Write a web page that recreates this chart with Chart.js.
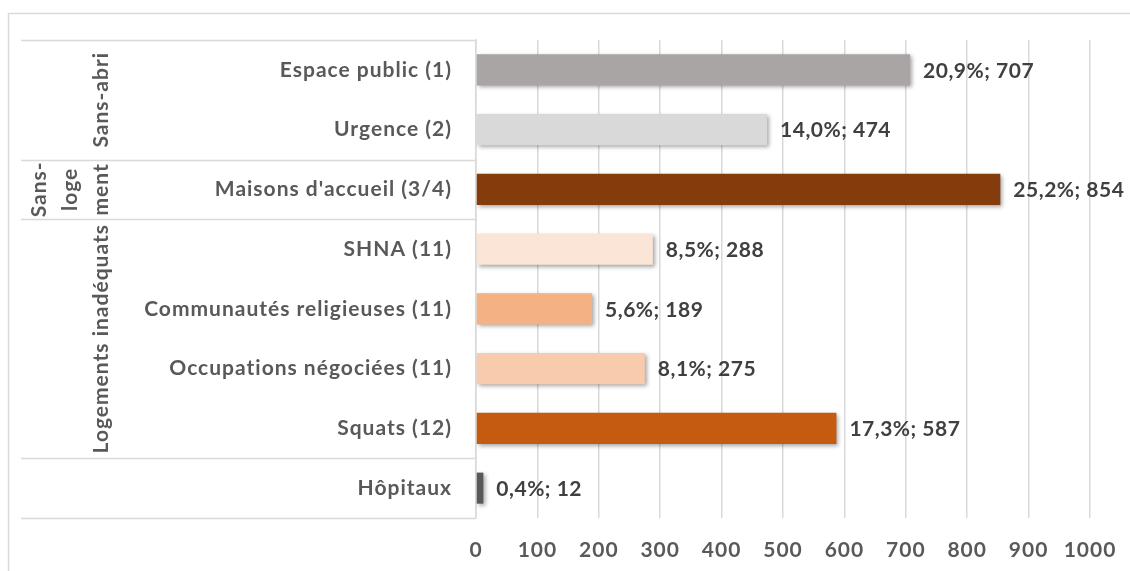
<!DOCTYPE html>
<html>
<head>
<meta charset="utf-8">
<script src="https://cdn.jsdelivr.net/npm/chart.js@4"></script>
<style>
  html, body { margin: 0; padding: 0; background: #fff; }
  #wrap { width: 1130px; height: 571px; }
</style>
</head>
<body>
<div id="wrap"><canvas id="graf"></canvas></div>
<script>
const categorias = [
  "Espace public (1)",
  "Urgence (2)",
  "Maisons d'accueil (3/4)",
  "SHNA (11)",
  "Communautés religieuses (11)",
  "Occupations négociées (11)",
  "Squats (12)",
  "Hôpitaux"
];
const valeurs = [707, 474, 854, 288, 189, 275, 587, 12];
const pourcents = ["20,9%", "14,0%", "25,2%", "8,5%", "5,6%", "8,1%", "17,3%", "0,4%"];
const couleurs = ["#a8a5a4", "#d9d9d9", "#843c0c", "#fbe5d6", "#f4b183", "#f8cbad", "#c55a11", "#595959"];
const ticksX = [0, 100, 200, 300, 400, 500, 600, 700, 800, 900, 1000];

// groupes de l'axe hiérarchique
const groupes = [["Sans-abri"], ["Sans-", "loge", "ment"], ["Logements inadéquats"], []];
const plages = [[0, 1], [2, 2], [3, 6], [7, 7]];

const FONT = "Lato, 'Liberation Sans', sans-serif";
const GRIS = "#d9d9d9";

const $ = s => document.querySelector(s);

// cadre + lignes + textes des groupes
const axeGroupes = {
  id: "axeGroupes",
  beforeDraw(chart) {
    const { ctx } = chart;
    ctx.letterSpacing = "1px"; // le texte de l'original est un peu espacé
    ctx.save();
    ctx.strokeStyle = GRIS;
    ctx.lineWidth = 1.5;
    ctx.strokeRect(8.5, 13.5, 1400, 800);
    ctx.restore();
  },
  afterDraw(chart) {
    const { ctx, chartArea } = chart;
    const y = chart.scales.y;
    const pas = y.getPixelForValue(1) - y.getPixelForValue(0);
    const bord = i => y.getPixelForValue(i) - pas / 2;

    ctx.save();
    ctx.strokeStyle = GRIS;
    ctx.lineWidth = 1.5;
    const limites = new Set();
    plages.forEach(([a, b]) => { limites.add(a); limites.add(b + 1); });
    limites.forEach(i => {
      const py = Math.round(bord(i)) + 0.5;
      ctx.beginPath();
      ctx.moveTo(21, py);
      ctx.lineTo(chartArea.left, py);
      ctx.stroke();
    });

    ctx.fillStyle = "#595959";
    ctx.font = "bold 21px " + FONT;
    ctx.letterSpacing = "1px";
    ctx.textAlign = "center";
    ctx.textBaseline = "middle";
    groupes.forEach((lignes, g) => {
      if (!lignes.length) return;
      const [a, b] = plages[g];
      const cy = (bord(a) + bord(b + 1)) / 2;
      lignes.forEach((txt, k) => {
        const cx = 101 - (lignes.length - 1 - k) * 31;
        ctx.save();
        ctx.translate(cx, cy);
        ctx.rotate(-Math.PI / 2);
        ctx.fillText(txt, 0, 0);
        ctx.restore();
      });
    });
    ctx.restore();
  }
};

// ombre des barres
const ombre = {
  id: "ombre",
  beforeDatasetsDraw(chart) {
    const { ctx } = chart;
    ctx.save();
    ctx.shadowColor = "rgba(0,0,0,0.35)";
    ctx.shadowBlur = 4;
    ctx.shadowOffsetX = 2;
    ctx.shadowOffsetY = 2;
  },
  afterDatasetsDraw(chart) {
    chart.ctx.restore();
  }
};

// étiquettes "x%; n"
const etiquettes = {
  id: "etiquettes",
  afterDatasetsDraw(chart) {
    const { ctx } = chart;
    const meta = chart.getDatasetMeta(0);
    ctx.save();
    ctx.fillStyle = "#404040";
    ctx.font = "bold 21px " + FONT;
    ctx.letterSpacing = "0.5px";
    ctx.textAlign = "left";
    ctx.textBaseline = "middle";
    meta.data.forEach((bar, i) => {
      ctx.fillText(pourcents[i] + "; " + valeurs[i], bar.x + 13, bar.y + 1);
    });
    ctx.restore();
  }
};

new Chart($("#graf"), {
  type: "bar",
  data: {
    labels: categorias,
    datasets: [{
      data: valeurs,
      backgroundColor: couleurs,
      barPercentage: 0.52,
      categoryPercentage: 1
    }]
  },
  options: {
    indexAxis: "y",
    responsive: true,
    maintainAspectRatio: false,
    animation: false,
    layout: { padding: { top: 40, right: 40, left: 0, bottom: 0 } },
    plugins: {
      legend: { display: false },
      tooltip: { enabled: false }
    },
    scales: {
      x: {
        min: 0,
        max: 1000,
        afterBuildTicks: s => { s.ticks = ticksX.map(v => ({ value: v })); },
        afterFit: s => { s.height = 53; s.paddingLeft = 0; s.paddingRight = 0; },
        grid: { color: GRIS, lineWidth: 1.5, drawTicks: false },
        border: { display: false },
        ticks: {
          padding: 20,
          color: "#595959",
          callback: v => String(v),
          font: { family: FONT, size: 21, weight: "bold" }
        }
      },
      y: {
        afterFit: s => { s.width = 476; },
        grid: { display: false, drawTicks: false },
        border: { display: true, color: GRIS, width: 1.5 },
        ticks: {
          padding: 24,
          color: "#595959",
          font: { family: FONT, size: 21, weight: "bold" }
        }
      }
    }
  },
  plugins: [axeGroupes, ombre, etiquettes]
});
</script>
</body>
</html>
